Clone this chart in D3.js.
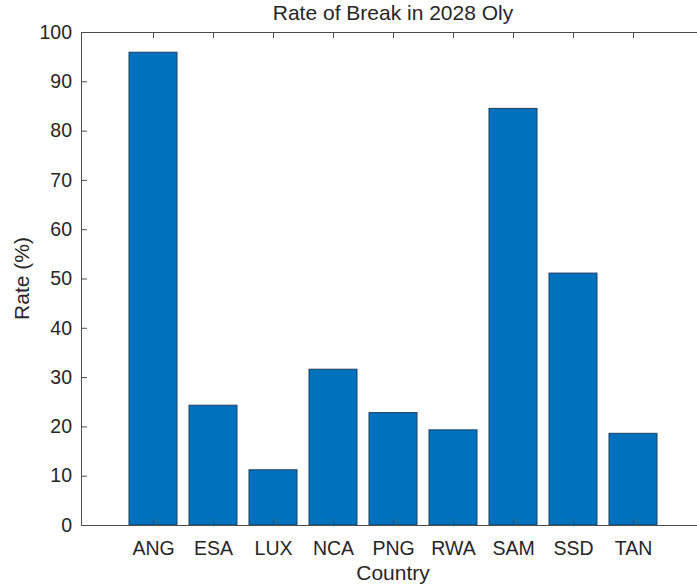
<!DOCTYPE html>
<html>
<head>
<meta charset="utf-8">
<script src="https://cdn.jsdelivr.net/npm/d3@7"></script>
<style>
  body { margin: 0; background: #fff; }
  svg { display: block; }
  text { font-family: "Liberation Sans", Arial, Helvetica, sans-serif; fill: #262626; }
</style>
</head>
<body>
<div id="chart"></div>
<script>
// Chart data
const countries = ["ANG", "ESA", "LUX", "NCA", "PNG", "RWA", "SAM", "SSD", "TAN"];
const rates = [95.9, 24.3, 11.2, 31.6, 22.8, 19.3, 84.5, 51.1, 18.6];
const yTicks = [0, 10, 20, 30, 40, 50, 60, 70, 80, 90, 100];

const width = 697, height = 586;
// Axes box runs slightly past the right edge of the window, as in the original figure
const margin = { top: 32, left: 81, bottom: 61 };
const plotRight = 705;
const innerW = plotRight - margin.left;
const innerH = height - margin.top - margin.bottom;

const svg = d3.select("#chart").append("svg")
  .attr("width", width).attr("height", height);

const plot = svg.append("g").attr("transform", `translate(${margin.left},${margin.top})`);

// Linear x on category index, limits like MATLAB categorical bar
const x = d3.scaleLinear().domain([-1.2, countries.length - 1 + 1.2]).range([0, innerW]);
const y = d3.scaleLinear().domain([0, 100]).range([innerH, 0]);
const barW = x(0.8) - x(0);

// Bars
plot.selectAll("rect.bar")
  .data(rates)
  .join("rect")
  .attr("class", "bar")
  .attr("x", (d, i) => x(i) - barW / 2)
  .attr("width", barW)
  .attr("y", d => y(d))
  .attr("height", d => y(0) - y(d))
  .attr("fill", "#0072BD")
  .attr("stroke", "#1d3f63")
  .attr("stroke-width", 1);

const axisColor = "#4d4d4d";
const tickLen = 6;
const tickFont = "19.5px";

// Y axis (left) with inward ticks
const yAxis = d3.axisLeft(y).tickValues(yTicks).tickSizeInner(-tickLen).tickSizeOuter(0).tickPadding(9);
const gy = plot.append("g").call(yAxis);
gy.selectAll("text").style("font-size", tickFont).attr("fill", "#262626");

// Right box edge with inward ticks
const gyr = plot.append("g").attr("transform", `translate(${innerW},0)`)
  .call(d3.axisRight(y).tickValues(yTicks).tickSizeInner(-tickLen).tickSizeOuter(0).tickFormat(""));

// X axis (bottom) with inward ticks
const xAxis = d3.axisBottom(x).tickValues(d3.range(countries.length))
  .tickFormat(i => countries[i]).tickSizeInner(-tickLen).tickSizeOuter(0).tickPadding(16);
const gx = plot.append("g").attr("transform", `translate(0,${innerH})`).call(xAxis);
gx.selectAll("text").style("font-size", tickFont).attr("fill", "#262626");

// Top box edge with inward ticks
plot.append("g")
  .call(d3.axisTop(x).tickValues(d3.range(countries.length)).tickSizeInner(-tickLen).tickSizeOuter(0).tickFormat(""));

plot.selectAll(".tick line").attr("stroke", axisColor);
plot.selectAll(".domain").attr("stroke", axisColor).attr("stroke-width", 1);

// Titles
svg.append("text")
  .attr("x", margin.left + innerW / 2).attr("y", 20)
  .attr("text-anchor", "middle")
  .style("font-size", "21px")
  .text("Rate of Break in 2028 Oly");

svg.append("text")
  .attr("x", margin.left + innerW / 2).attr("y", 580)
  .attr("text-anchor", "middle")
  .style("font-size", "21px")
  .text("Country");

svg.append("text")
  .attr("transform", `translate(29,${margin.top + innerH / 2}) rotate(-90)`)
  .attr("text-anchor", "middle")
  .style("font-size", "21px")
  .text("Rate (%)");
</script>
</body>
</html>
